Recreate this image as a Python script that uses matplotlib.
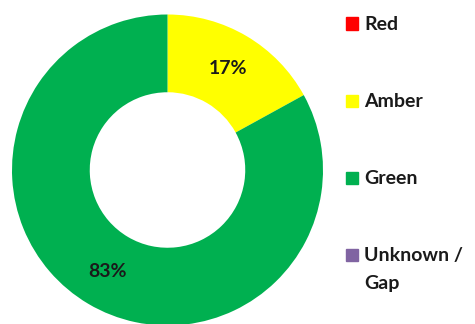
import matplotlib.pyplot as plt
from matplotlib.patches import Rectangle

categories = ['Red', 'Amber', 'Green', 'Unknown /\nGap']
values = [0, 17, 83, 0]
colors = ['#FF0000', '#FFFF00', '#00B050', '#8064A2']

plt.rcParams['font.family'] = ['Lato', 'DejaVu Sans']

W, H = 475, 324
fig = plt.figure(figsize=(W / 100, H / 100), dpi=100)

# donut axes, placed in pixel terms
cx, cy, r = 167.5, 154, 155.5
ax = fig.add_axes([(cx - r) / W, (cy - r) / H, 2 * r / W, 2 * r / H])
ax.pie(values, colors=colors, startangle=90, counterclock=False,
       radius=1, wedgeprops=dict(width=0.5, linewidth=0),
       autopct=lambda p: f'{p:.0f}%' if p > 0 else '',
       pctdistance=0.76,
       textprops=dict(fontsize=14, fontweight='bold', color='#1a1a1a'))
ax.set_xlim(-1, 1)
ax.set_ylim(-1, 1)
ax.set_aspect('equal')
ax.axis('off')

# legend on the right, one baseline per text line
for i, (name, col) in enumerate(zip(categories, colors)):
    ytop = 17.5 + i * 77
    fig.patches.append(Rectangle((346 / W, 1 - (ytop + 12) / H), 12 / W, 12 / H,
                                 transform=fig.transFigure, color=col))
    for k, line in enumerate(name.split('\n')):
        fig.text(364 / W, 1 - (ytop + 12.5 + k * 28.5) / H, line, fontsize=14,
                 fontweight='bold', color='#1a1a1a', va='baseline', ha='left')

fig.savefig('out.png', dpi=100)
